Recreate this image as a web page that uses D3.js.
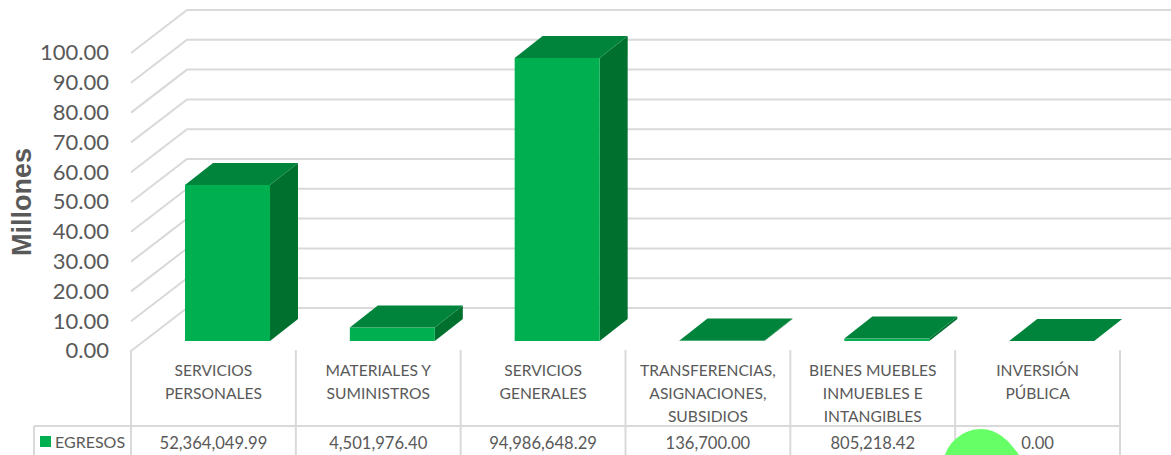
<!DOCTYPE html>
<html><head><meta charset="utf-8">
<script src="https://cdn.jsdelivr.net/npm/d3@7"></script>
<style>
html,body{margin:0;padding:0;background:#fff;overflow:hidden}
svg{display:block}
text{font-family:Lato,"Open Sans",sans-serif;fill:#595959}
</style></head><body>
<svg id="c" width="1171" height="455"></svg>
<script>
const categories=[["SERVICIOS","PERSONALES"],["MATERIALES Y","SUMINISTROS"],["SERVICIOS","GENERALES"],["TRANSFERENCIAS,","ASIGNACIONES,","SUBSIDIOS"],["BIENES MUEBLES","INMUEBLES E","INTANGIBLES"],["INVERSIÓN","PÚBLICA"]];
const egresos=[52364049.99,4501976.40,94986648.29,136700.00,805218.42,0.00];
const seriesName="EGRESOS";
const yTicks=[0,10,20,30,40,50,60,70,80,90,100];
const idx=d3.range(categories.length);

const svg=d3.select("#c");
const plotL=131,plotR=1120,y0=351,y100=53,depthX=56,depthY=-43;
const x=d3.scaleBand().domain(idx).range([plotL,plotR]);
const y=d3.scaleLinear().domain([0,100]).range([y0,y100]);
const grid="#d9d9d9";

// gridlines: side wall + back wall
const g=svg.append("g").attr("fill","none").attr("stroke",grid).attr("stroke-width",2);
g.selectAll("path.w").data(yTicks).join("path").attr("class","w")
 .attr("d",t=>d3.line()([[plotL,y(t)],[plotL+depthX,y(t)+depthY],[plotR+depthX,y(t)+depthY]]));

// value axis labels
const yAxis=d3.axisLeft(y).tickValues(yTicks).tickSize(0).tickPadding(0).tickFormat(d3.format(".2f"));
const ya=svg.append("g").attr("transform","translate(109,-1)").call(yAxis);
ya.select(".domain").remove();
ya.selectAll("text").style("font-size","22px").style("font-family","Lato,sans-serif").attr("dy","0.36em");

svg.append("text").attr("transform","translate(31,202) rotate(-90)").attr("text-anchor","middle")
 .style("font-family","'Liberation Sans',sans-serif").style("font-weight","700").style("font-size","27px").text("Millones");

// 3D bars
const dx=28,dy=-22,lift=10,barW=85,barOff=54;
const bars=svg.append("g").selectAll("g").data(idx).join("g");
const pts=a=>a.map(p=>p.join(",")).join(" ");
const L=i=>x(i)+barOff,R=i=>L(i)+barW,B=()=>y(0)-lift,T=i=>y(egresos[i]/1e6)-lift;
bars.append("polygon").attr("fill","#00702f")
 .attr("points",i=>pts([[R(i),B()],[R(i)+dx,B()+dy],[R(i)+dx,T(i)+dy],[R(i),T(i)]]));
bars.append("rect").attr("fill","#00b050")
 .attr("x",L).attr("width",barW).attr("y",T).attr("height",i=>B()-T(i));
bars.append("polygon").attr("fill","#00843b")
 .attr("points",i=>pts([[L(i),T(i)],[L(i)+dx,T(i)+dy],[R(i)+dx,T(i)+dy],[R(i),T(i)]]));

// data table
const tTop=426,tBot=462,sepTop=350;
const t=svg.append("g").attr("stroke",grid).attr("stroke-width",2).attr("fill","none");
t.selectAll("line.v").data(d3.range(categories.length+1)).join("line").attr("class","v")
 .attr("x1",i=>i<categories.length?x(i):plotR).attr("x2",i=>i<categories.length?x(i):plotR)
 .attr("y1",sepTop).attr("y2",tBot);
t.append("line").attr("x1",34).attr("x2",plotR).attr("y1",tTop).attr("y2",tTop);
t.append("line").attr("x1",34).attr("x2",34).attr("y1",tTop).attr("y2",tBot);

// highlight blob
svg.append("path").attr("fill","#66ff66")
 .attr("d","M945 455C950 440 965 429 981 429C998 429 1010 442 1019 455Z");

const catG=svg.append("g").attr("text-anchor","middle").style("font-size","15.6px");
idx.forEach(i=>{
  categories[i].forEach((ln,j)=>{
    catG.append("text").attr("x",x(i)+x.bandwidth()/2).attr("y",376+j*23).text(ln);
  });
});
const fmt=d3.format(",.2f");
svg.append("g").attr("text-anchor","middle").style("font-size","16.6px")
 .selectAll("text").data(idx).join("text")
 .attr("x",i=>x(i)+x.bandwidth()/2).attr("y",449).text(i=>fmt(egresos[i]));

svg.append("rect").attr("x",40).attr("y",436).attr("width",11).attr("height",11).attr("fill","#00b050");
svg.append("text").attr("x",55).attr("y",448).style("font-size","16px").text(seriesName);
</script>
</body></html>
